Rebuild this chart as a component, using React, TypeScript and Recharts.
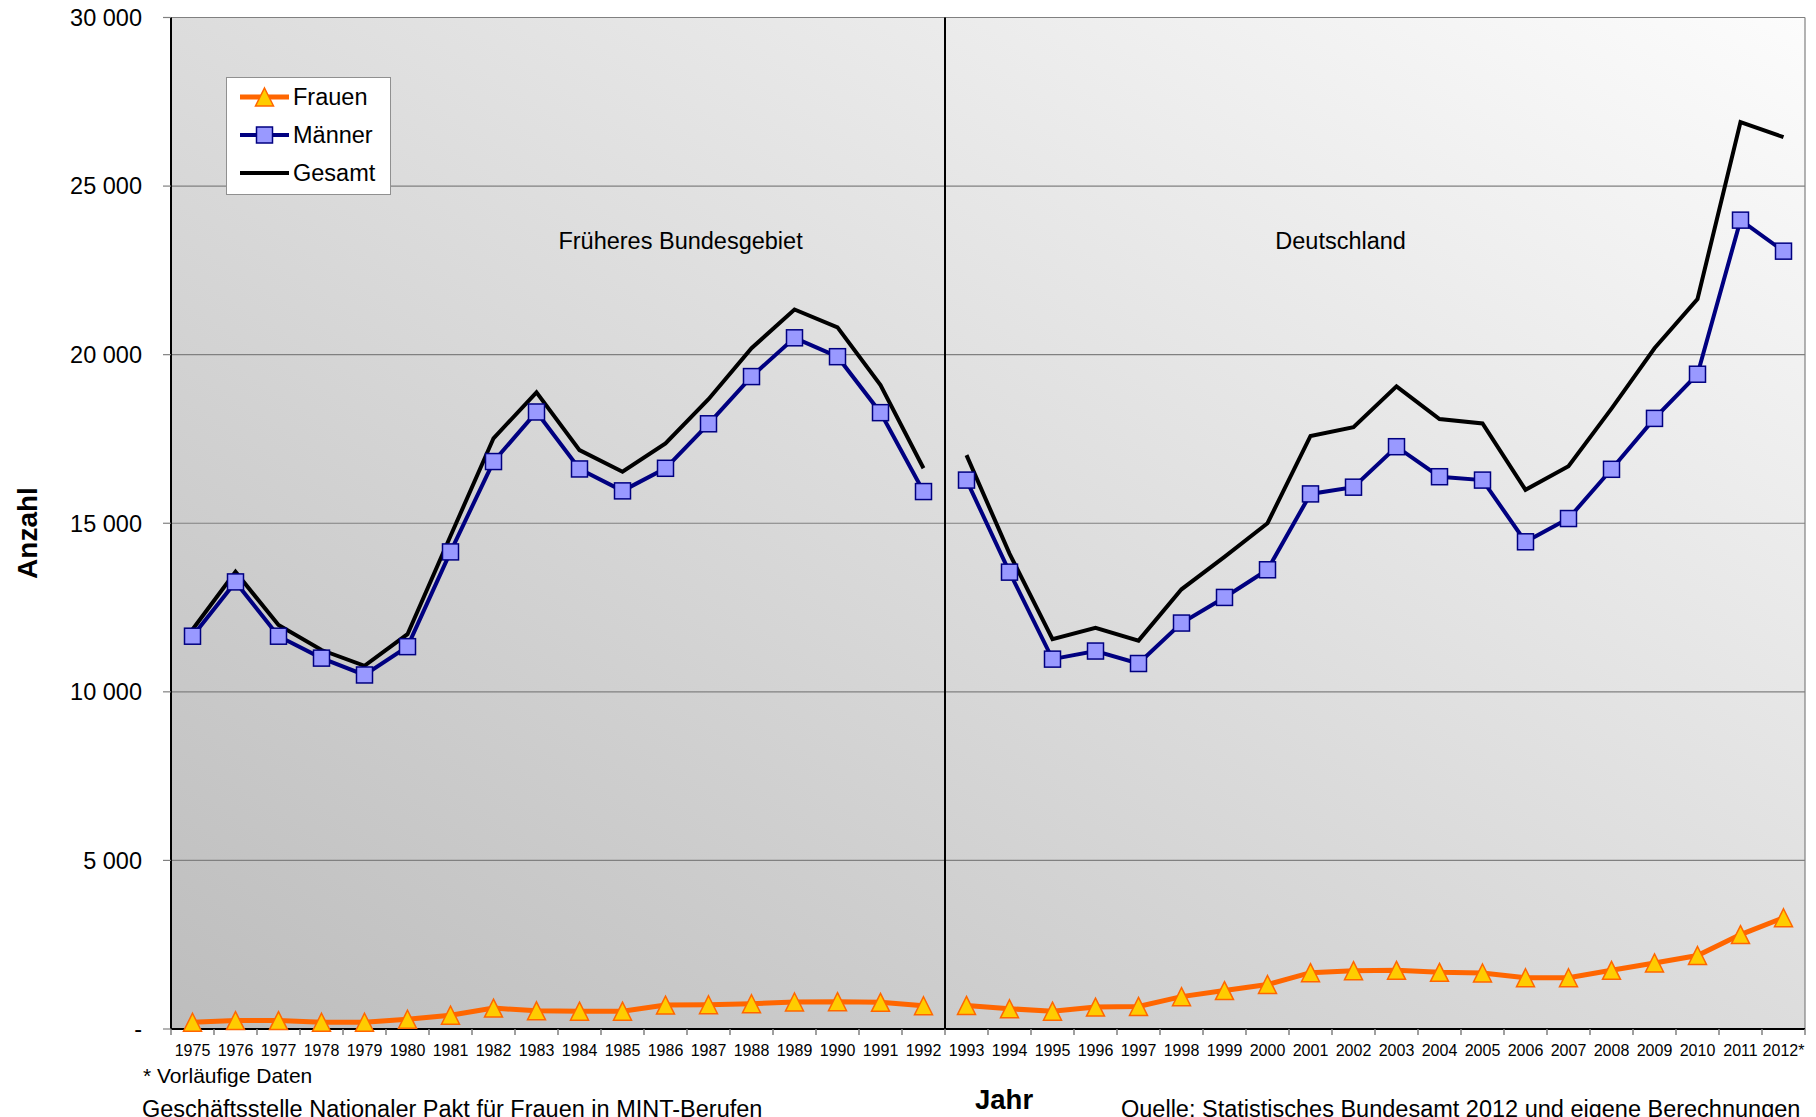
import {
    LineChart,
    Line,
    XAxis,
    YAxis,
    CartesianGrid,
    ReferenceLine,
    ReferenceDot,
    Legend
} from "recharts";

// Jahre 1975 - 2012 (2012 = vorläufige Daten)
const years = [
    1975, 1976, 1977, 1978, 1979, 1980, 1981, 1982, 1983, 1984, 1985, 1986, 1987,
    1988, 1989, 1990, 1991, 1992, 1993, 1994, 1995, 1996, 1997, 1998, 1999, 2000,
    2001, 2002, 2003, 2004, 2005, 2006, 2007, 2008, 2009, 2010, 2011, 2012
];

const frauen = [
    200, 250, 250, 200, 200, 290, 410, 620, 540, 530, 530, 710, 720,
    750, 800, 810, 790, 690, 700, 600, 530, 650, 670, 960, 1140, 1320,
    1670, 1730, 1740, 1680, 1660, 1520, 1520, 1740, 1960, 2180, 2800, 3300
];

const maenner = [
    11650, 13260, 11650, 11000, 10500, 11340, 14150, 16830, 18300, 16610, 15960, 16630, 17950,
    19350, 20500, 19940, 18280, 15940, 16280, 13550, 10970, 11210, 10840, 12040, 12800, 13620,
    15870, 16070, 17270, 16380, 16280, 14450, 15140, 16600, 18110, 19420, 23990, 23070
];

const gesamt = [
    11850, 13560, 11980, 11240, 10770, 11710, 14620, 17520, 18880, 17170, 16530, 17370, 18680,
    20190, 21340, 20810, 19100, 16630, 17020, 14100, 11560, 11900, 11520, 13040, 14000, 15000,
    17590, 17850, 19060, 18090, 17960, 15990, 16690, 18400, 20190, 21650, 26900, 26450
];

const yTicks = [0, 5000, 10000, 15000, 20000, 25000, 30000];

// letztes Jahr "Früheres Bundesgebiet"
const lastWestYear = 1992;

const FONT = '"Liberation Sans", Arial, Helvetica, sans-serif';

const data = years.map((year, i) => ({
    year,
    frauenWest: year <= lastWestYear ? frauen[i] : null,
    frauenDE: year > lastWestYear ? frauen[i] : null,
    maennerWest: year <= lastWestYear ? maenner[i] : null,
    maennerDE: year > lastWestYear ? maenner[i] : null,
    gesamtWest: year <= lastWestYear ? gesamt[i] : null,
    gesamtDE: year > lastWestYear ? gesamt[i] : null
}));

// label ticks on the years, tick marks on the boundaries between them
const xTicks: number[] = [years[0] - 0.5];
years.forEach((y) => {
    xTicks.push(y, y + 0.5);
});

const formatY = (v: number) =>
    v === 0 ? "-" : String(v).replace(/\B(?=(\d{3})+(?!\d))/g, " ");

const formatYear = (y: number) => (y === 2012 ? "2012*" : String(y));

function TriangleDot(props: any) {
    const { cx, cy } = props;
    if (cx == null || cy == null) return <g />;
    return (
        <path
            d={`M${cx},${cy - 9} L${cx + 9},${cy + 9} L${cx - 9},${cy + 9} Z`}
            fill="#FFCC00"
            stroke="#FF6600"
            strokeWidth={1.5}
        />
    );
}

function SquareDot(props: any) {
    const { cx, cy } = props;
    if (cx == null || cy == null) return <g />;
    return (
        <rect
            x={cx - 8}
            y={cy - 8}
            width={16}
            height={16}
            fill="#9999FF"
            stroke="#000080"
            strokeWidth={1.5}
        />
    );
}

function YearTick(props: any) {
    const { x, y, payload } = props;
    const v = payload.value as number;
    if (!Number.isInteger(v)) {
        return <line x1={x} x2={x} y1={y} y2={y + 6} stroke="#808080" strokeWidth={1.5} />;
    }
    return (
        <text x={x} y={y + 27} textAnchor="middle" fontSize={16} fill="#000">
            {formatYear(v)}
        </text>
    );
}

const legendItems = [
    { name: "Frauen", color: "#FF6600", width: 5, marker: "triangle" },
    { name: "Männer", color: "#000080", width: 4, marker: "square" },
    { name: "Gesamt", color: "#000000", width: 4, marker: "none" }
];

function LegendBox() {
    return (
        <svg width={165} height={118} style={{ display: "block" }}>
            <rect x={0.5} y={0.5} width={164} height={117} fill="#fff" stroke="#909090" />
            {legendItems.map((item, i) => {
                const cy = 20 + i * 38;
                return (
                    <g key={item.name}>
                        <line x1={14} x2={63} y1={cy} y2={cy} stroke={item.color} strokeWidth={item.width} />
                        {item.marker === "triangle" && <TriangleDot cx={38.5} cy={cy} />}
                        {item.marker === "square" && <SquareDot cx={38.5} cy={cy} />}
                        <text x={67} y={cy} dy="0.355em" fontSize={23.5} fill="#000" fontFamily={FONT}>
                            {item.name}
                        </text>
                    </g>
                );
            })}
        </svg>
    );
}

export default function App() {
    return (
        <div
            style={{
                position: "absolute",
                left: 0,
                top: 0,
                width: 1816,
                height: 1117,
                overflow: "hidden",
                background: "#fff",
                fontFamily: FONT
            }}
        >
            <LineChart
                width={1816}
                height={1117}
                data={data}
                margin={{ top: 17.5, right: 11, bottom: 0, left: 0 }}
            >
                <defs>
                    <linearGradient id="plotBg" x1="0" y1="1" x2="1" y2="0">
                        <stop offset="0%" stopColor="#bdbdbd" />
                        <stop offset="100%" stopColor="#fcfcfc" />
                    </linearGradient>
                </defs>

                <CartesianGrid
                    vertical={false}
                    stroke="#808080"
                    strokeWidth={1.2}
                    fill="url(#plotBg)"
                    fillOpacity={1}
                />

                <XAxis
                    dataKey="year"
                    type="number"
                    domain={[years[0] - 0.5, years[years.length - 1] + 0.5]}
                    ticks={xTicks}
                    interval={0}
                    tick={<YearTick />}
                    tickLine={false}
                    tickSize={0}
                    tickMargin={0}
                    axisLine={{ stroke: "#000", strokeWidth: 2 }}
                    height={88}
                    allowDataOverflow
                />

                <YAxis
                    domain={[0, 30000]}
                    ticks={yTicks}
                    tickFormatter={formatY}
                    width={171}
                    tickSize={8}
                    tickMargin={21}
                    tickLine={{ stroke: "#808080", strokeWidth: 1.2 }}
                    axisLine={{ stroke: "#000", strokeWidth: 2 }}
                    tick={{ fontSize: 23.5, fill: "#000" }}
                />

                <ReferenceLine x={years[years.length - 1] + 0.5} stroke="#808080" strokeWidth={1.2} />
                <ReferenceLine x={lastWestYear + 0.5} stroke="#000" strokeWidth={2} />

                <ReferenceDot
                    x={1986.35}
                    y={23370}
                    r={0}
                    fill="none"
                    stroke="none"
                    label={{ value: "Früheres Bundesgebiet", position: "center", fontSize: 23.5, fill: "#000" }}
                />
                <ReferenceDot
                    x={2001.7}
                    y={23370}
                    r={0}
                    fill="none"
                    stroke="none"
                    label={{ value: "Deutschland", position: "center", fontSize: 23.5, fill: "#000" }}
                />

                <Legend
                    layout="vertical"
                    align="center"
                    verticalAlign="middle"
                    wrapperStyle={{ left: 226, top: 77, width: 165, height: 118 }}
                    content={() => <LegendBox />}
                />

                <Line dataKey="frauenWest" name="Frauen" stroke="#FF6600" strokeWidth={5} dot={<TriangleDot />} activeDot={false} isAnimationActive={false} legendType="none" />
                <Line dataKey="frauenDE" name="Frauen" stroke="#FF6600" strokeWidth={5} dot={<TriangleDot />} activeDot={false} isAnimationActive={false} legendType="none" />
                <Line dataKey="maennerWest" name="Männer" stroke="#000080" strokeWidth={4} dot={<SquareDot />} activeDot={false} isAnimationActive={false} legendType="none" />
                <Line dataKey="maennerDE" name="Männer" stroke="#000080" strokeWidth={4} dot={<SquareDot />} activeDot={false} isAnimationActive={false} legendType="none" />
                <Line dataKey="gesamtWest" name="Gesamt" stroke="#000" strokeWidth={4} dot={false} activeDot={false} isAnimationActive={false} legendType="none" />
                <Line dataKey="gesamtDE" name="Gesamt" stroke="#000" strokeWidth={4} dot={false} activeDot={false} isAnimationActive={false} legendType="none" />
            </LineChart>

            <svg
                width={1816}
                height={1117}
                style={{ position: "absolute", left: 0, top: 0, pointerEvents: "none" }}
            >
                <text transform="translate(37,533) rotate(-90)" textAnchor="middle" fontSize={28} fontWeight="bold">
                    Anzahl
                </text>
                <text x={975} y={1109} fontSize={27.5} fontWeight="bold">
                    Jahr
                </text>
                <text x={143} y={1083} fontSize={21}>
                    * Vorläufige Daten
                </text>
                <text x={142} y={1117} fontSize={23.5}>
                    Geschäftsstelle Nationaler Pakt für Frauen in MINT-Berufen
                </text>
                <text x={1121} y={1117} fontSize={23.5}>
                    Quelle: Statistisches Bundesamt 2012 und eigene Berechnungen
                </text>
            </svg>
        </div>
    );
}
